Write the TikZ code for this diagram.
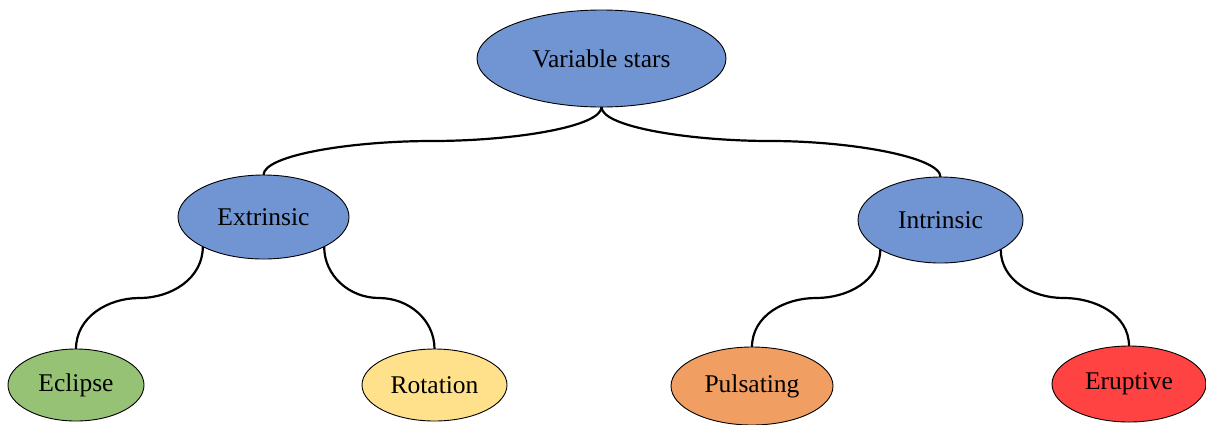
\documentclass[tikz,border=0pt]{standalone}
\usepackage{fontspec}
\setmainfont{Liberation Serif}
\usetikzlibrary{shapes.geometric}
\definecolor{cblue}{HTML}{7195D3}
\definecolor{cgreen}{HTML}{95C274}
\definecolor{cyellow}{HTML}{FFE18C}
\definecolor{corange}{HTML}{F19E63}
\definecolor{cred}{HTML}{FF4343}
\begin{document}
\begin{tikzpicture}[x=1pt,y=1pt,
  bub/.style={ellipse, draw=black, line width=0.9pt, inner sep=0pt, outer sep=0pt,
    font=\fontsize{25.5}{30}\selectfont},
  conn/.style={draw=black, line width=2.2pt}]
\useasboundingbox (0,0) rectangle (1206,-424);
\node[bub, fill=cblue, minimum width=249pt, minimum height=97pt] (VS) at (601.5,-58.5) {Variable stars};
\node[bub, fill=cblue, minimum width=171pt, minimum height=84pt] (Ex) at (263.5,-217) {Extrinsic};
\node[bub, fill=cblue, minimum width=165pt, minimum height=86pt] (In) at (940.5,-220) {Intrinsic};
\node[bub, fill=cgreen, minimum width=136pt, minimum height=72pt] (Ec) at (76,-385) {Eclipse};
\node[bub, fill=cyellow, minimum width=145pt, minimum height=72pt] (Ro) at (434.5,-385) {Rotation};
\node[bub, fill=corange, minimum width=162pt, minimum height=78pt] (Pu) at (752,-386) {Pulsating};
\node[bub, fill=cred, minimum width=154pt, minimum height=76pt] (Er) at (1129,-384) {Eruptive};
\coordinate (m1) at (432,-141);
\coordinate (m2) at (770.5,-141);
\coordinate (m3) at (139.5,-298);
\coordinate (m4) at (379,-298);
\coordinate (m5) at (816,-298);
\coordinate (m6) at (1063.5,-298);
\draw[conn] (VS.south) .. controls +(0,-20) and +(80,0) .. (m1) .. controls +(-80,0) and +(0,20) .. (Ex.north);
\draw[conn] (VS.south) .. controls +(0,-20) and +(-80,0) .. (m2) .. controls +(80,0) and +(0,20) .. (In.north);
\draw[conn] (Ex.206) to[out=-90,in=0] (m3) to[out=180,in=90] (Ec.north);
\draw[conn] (Ex.334) to[out=-90,in=180] (m4) to[out=0,in=90] (Ro.north);
\draw[conn] (In.206) to[out=-90,in=0] (m5) to[out=180,in=90] (Pu.north);
\draw[conn] (In.334) to[out=-90,in=180] (m6) to[out=0,in=90] (Er.north);
\end{tikzpicture}
\end{document}
